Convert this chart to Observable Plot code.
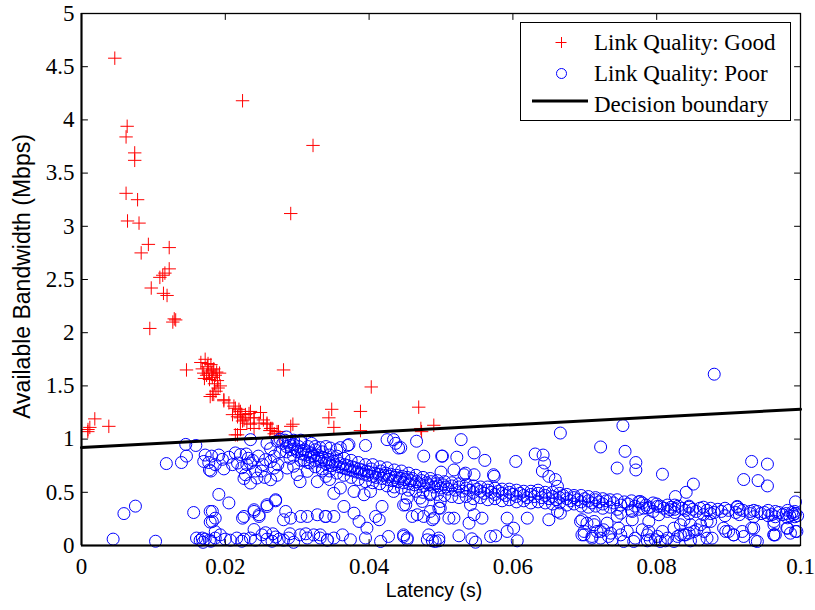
<!DOCTYPE html>
<html>
<head>
<meta charset="utf-8">
<script src="https://cdn.jsdelivr.net/npm/d3@7"></script>
<script src="https://cdn.jsdelivr.net/npm/@observablehq/plot@0.6"></script>
<style>
  html, body { margin: 0; padding: 0; background: #fff; }
  #wrap { position: relative; width: 815px; height: 610px; }
  #legend { position: absolute; left: 520px; top: 22px; }
</style>
</head>
<body>
<div id="wrap"></div>
<script>
// ---- Data ----
const xTicks = [0, 0.02, 0.04, 0.06, 0.08, 0.1];
const xTickLabels = ["0", "0.02", "0.04", "0.06", "0.08", "0.1"];
const yTicks = [0, 0.5, 1, 1.5, 2, 2.5, 3, 3.5, 4, 4.5, 5];
const yTickLabels = ["0", "0.5", "1", "1.5", "2", "2.5", "3", "3.5", "4", "4.5", "5"];
const xLabel = "Latency (s)";
const yLabel = "Available Bandwidth (Mbps)";
const legendLabels = ["Link Quality: Good", "Link Quality: Poor", "Decision boundary"];

const boundaryLatency = [0, 0.1];
const boundaryBandwidth = [0.92, 1.28];

// Link Quality: Good  [latency, bandwidth]
const goodPoints = [
  [0.00463,4.58],[0.0224,4.18],[0.0322,3.76],[0.0291,3.12],[0.00635,3.94],[0.0062,3.84],[0.0074,3.69],[0.0074,3.62],
  [0.0062,3.31],[0.0078,3.25],[0.0064,3.05],[0.0080,3.03],[0.0093,2.83],[0.0083,2.75],[0.0122,2.80],[0.0122,2.60],
  [0.0109,2.52],[0.0113,2.54],[0.0116,2.56],[0.0097,2.42],[0.0114,2.37],[0.0119,2.35],[0.0095,2.04],[0.0129,2.13],
  [0.0127,2.10],[0.0131,2.12],
  [0.00116,1.11],[0.00088,1.07],[0.00185,1.19],[0.0038,1.12],[0.0009,1.09],
  [0.0146,1.65],[0.0166,1.72],[0.0168,1.66],[0.0170,1.62],[0.0172,1.75],[0.0174,1.60],[0.0175,1.68],[0.0177,1.64],
  [0.0178,1.56],[0.0180,1.70],[0.0181,1.62],[0.0182,1.58],[0.0183,1.65],[0.0185,1.52],[0.0186,1.60],[0.0188,1.63],
  [0.0189,1.55],[0.0190,1.48],[0.0192,1.62],[0.0193,1.50],[0.0171,1.57],[0.0176,1.71],[0.0184,1.66],[0.0187,1.45],
  [0.0179,1.40],[0.0184,1.42],[0.0198,1.37],[0.0205,1.34],
  [0.0214,1.29],[0.0221,1.26],[0.0228,1.23],[0.0235,1.26],[0.0240,1.20],[0.0249,1.25],[0.0253,1.18],[0.0258,1.14],
  [0.0265,1.10],[0.0272,1.07],[0.0217,1.21],[0.0224,1.17],[0.0230,1.15],[0.0240,1.10],[0.0221,1.09],[0.0217,1.04],
  [0.0182,1.42],[0.0198,1.36],[0.0212,1.31],[0.0219,1.28],[0.0223,1.23],[0.0233,1.24],[0.0226,1.18],[0.0240,1.20],
  [0.0247,1.15],[0.0235,1.14],[0.0258,1.15],[0.0263,1.10],[0.0274,1.07],[0.0291,1.12],[0.0214,1.04],[0.0221,1.20],
  [0.0210,1.23],[0.0268,1.05],[0.0276,1.02],[0.0262,1.08],
  [0.0281,1.65],[0.0294,1.14],[0.0403,1.49],[0.0348,1.28],[0.0344,1.20],[0.0351,1.11],[0.0388,1.26],[0.0388,1.08],
  [0.0469,1.30],[0.0472,1.10],[0.0490,1.13],[0.0473,1.07]
];

// Link Quality: Poor  [latency, bandwidth]
const poorPoints = [
  // low latency, scattered
  [0.0044,0.06],[0.0059,0.30],[0.0075,0.37],[0.0103,0.04],[0.0118,0.77],[0.0139,0.78],[0.0146,0.84],[0.0145,0.95],
  [0.0159,0.94],[0.0172,0.85],[0.0177,0.78],[0.0178,0.71],[0.0156,0.31],[0.0179,0.32],[0.0179,0.22],[0.0160,0.07],
  [0.0165,0.05],[0.0172,0.06],[0.0178,0.05],[0.0169,0.03],
  // 0.018 - 0.028 upper cloud
  [0.0181,0.84],[0.0191,0.85],[0.0196,0.81],[0.0180,0.70],[0.0170,0.79],[0.0214,0.87],[0.0217,0.775],[0.0223,0.73],
  [0.0232,0.82],[0.0235,0.775],[0.0228,0.665],[0.0235,0.587],[0.0244,0.634],[0.0221,0.855],[0.0256,0.807],[0.0263,0.79],
  [0.0268,0.728],[0.0263,0.618],[0.0272,0.66],[0.0276,0.88],[0.0263,0.91],[0.0258,0.96],[0.0235,0.995],[0.0230,0.76],
  [0.0238,0.80],[0.0205,0.83],[0.0186,0.76],[0.0226,0.63],[0.0250,0.70],[0.0246,0.84],[0.0252,0.76],[0.0268,0.84],
  [0.0273,0.76],[0.0229,0.86],[0.0210,0.76],[0.0198,0.72],[0.0255,0.64],[0.0242,0.70],
  // 0.018 - 0.028 middle
  [0.0191,0.48],[0.0205,0.40],[0.0270,0.43],[0.0258,0.367],[0.0240,0.336],[0.0226,0.273],[0.0182,0.32],[0.0186,0.257],
  [0.0182,0.226],[0.0247,0.273],[0.0284,0.32],[0.0291,0.257],[0.0281,0.242],[0.0224,0.257],[0.0240,0.32],[0.0247,0.289],
  [0.0258,0.383],[0.0270,0.42],
  // 0.017 - 0.035 bottom row
  [0.0168,0.07],[0.0180,0.04],[0.0186,0.07],[0.0193,0.10],[0.0207,0.05],[0.0216,0.07],[0.0223,0.04],[0.0235,0.07],
  [0.0242,0.05],[0.0251,0.10],[0.0258,0.06],[0.0265,0.04],[0.0270,0.08],[0.0281,0.05],[0.0288,0.07],[0.0295,0.03],
  [0.0304,0.10],[0.0314,0.07],[0.0323,0.10],[0.0332,0.07],[0.0342,0.05],[0.0186,0.13],[0.0240,0.15],[0.0256,0.12],
  [0.0266,0.11],[0.0290,0.11],[0.0312,0.11],[0.0226,0.06],[0.0200,0.06],[0.0275,0.06],
  // main band
  [0.0272,0.98],[0.0276,1.00],[0.0280,0.96],[0.0283,0.99],[0.0285,0.93],[0.0288,0.97],[0.0290,0.94],[0.0292,0.90],
  [0.0295,0.95],[0.0297,0.91],[0.0300,0.88],[0.0302,0.93],[0.0305,0.89],[0.0307,0.86],[0.0310,0.90],[0.0312,0.85],
  [0.0315,0.88],[0.0318,0.83],[0.0320,0.87],[0.0323,0.84],[0.0325,0.80],[0.0328,0.85],[0.0330,0.82],[0.0333,0.79],
  [0.0335,0.83],[0.0338,0.80],[0.0340,0.77],[0.0343,0.81],[0.0345,0.78],[0.0348,0.75],[0.0350,0.79],[0.0353,0.76],
  [0.0356,0.80],[0.0358,0.74],[0.0360,0.77],[0.0363,0.73],[0.0366,0.76],[0.0368,0.72],[0.0370,0.75],[0.0373,0.71],
  [0.0376,0.74],[0.0378,0.70],[0.0380,0.73],[0.0383,0.69],[0.0386,0.72],[0.0388,0.68],[0.0390,0.71],[0.0393,0.67],
  [0.0396,0.70],[0.0398,0.66],[0.0400,0.69],[0.0403,0.72],[0.0405,0.65],[0.0408,0.68],[0.0410,0.64],[0.0413,0.67],
  [0.0416,0.70],[0.0418,0.63],[0.0420,0.66],[0.0423,0.68],[0.0426,0.62],[0.0428,0.65],[0.0430,0.67],[0.0433,0.61],
  [0.0436,0.64],[0.0438,0.66],[0.0440,0.60],[0.0443,0.63],[0.0446,0.65],[0.0448,0.59],[0.0450,0.62],[0.0453,0.64],
  [0.0456,0.58],[0.0458,0.61],[0.0460,0.63],[0.0463,0.57],[0.0466,0.60],[0.0470,0.58],[0.0473,0.61],[0.0476,0.56],
  [0.0480,0.59],[0.0483,0.57],[0.0486,0.60],[0.0490,0.55],[0.0493,0.58],[0.0496,0.56],[0.0500,0.54],[0.0503,0.57],
  [0.0507,0.55],[0.0510,0.53],[0.0515,0.56],[0.0520,0.52],[0.0525,0.55],[0.0530,0.51],[0.0535,0.54],[0.0540,0.52],
  [0.0545,0.50],[0.0550,0.53],[0.0555,0.51],[0.0560,0.49],[0.0565,0.52],[0.0570,0.50],[0.0575,0.48],[0.0580,0.51],
  [0.0585,0.49],[0.0590,0.47],[0.0595,0.50],[0.0600,0.48],[0.0605,0.46],[0.0610,0.49],[0.0615,0.47],[0.0620,0.45],
  [0.0625,0.48],[0.0630,0.46],[0.0635,0.49],[0.0640,0.45],[0.0645,0.47],[0.0650,0.44],[0.0655,0.46],[0.0660,0.43],
  [0.0665,0.45],[0.0670,0.47],[0.0675,0.44],[0.0680,0.42],[0.0685,0.45],[0.0690,0.43],[0.0695,0.41],[0.0700,0.44],
  [0.0705,0.42],[0.0710,0.40],[0.0715,0.43],[0.0720,0.41],[0.0725,0.39],[0.0730,0.42],[0.0740,0.40],[0.0750,0.38],
  [0.0755,0.41],[0.0760,0.39],[0.0770,0.37],[0.0780,0.40],[0.0785,0.38],[0.0790,0.36],[0.0800,0.39],[0.0805,0.37],
  [0.0810,0.35],[0.0815,0.38],[0.0820,0.36],[0.0825,0.34],[0.0830,0.37],[0.0835,0.35],[0.0840,0.33],[0.0845,0.36],
  [0.0850,0.34],[0.0855,0.32],[0.0860,0.35],[0.0870,0.33],[0.0880,0.31],[0.0885,0.34],[0.0890,0.32],[0.0900,0.33],
  [0.0910,0.31],[0.0920,0.33],[0.0930,0.30],[0.0940,0.32],[0.0945,0.30],[0.0950,0.31],[0.0960,0.29],[0.0970,0.31],
  [0.0975,0.29],[0.0980,0.30],[0.0985,0.28],[0.0988,0.31],[0.0990,0.29],[0.0993,0.30],[0.0996,0.28],
  // band, outer edges
  [0.0285,0.88],[0.0285,1.02],[0.0295,0.84],[0.0295,0.99],[0.0305,0.80],[0.0305,0.97],[0.0315,0.78],[0.0315,0.93],
  [0.0325,0.74],[0.0325,0.90],[0.0335,0.72],[0.0335,0.88],[0.0345,0.70],[0.0345,0.85],[0.0355,0.68],[0.0355,0.84],
  [0.0365,0.66],[0.0365,0.82],[0.0375,0.64],[0.0375,0.80],[0.0385,0.62],[0.0385,0.78],[0.0395,0.60],[0.0395,0.76],
  [0.0405,0.59],[0.0405,0.76],[0.0415,0.58],[0.0415,0.74],[0.0425,0.56],[0.0425,0.73],[0.0435,0.55],[0.0435,0.71],
  [0.0445,0.54],[0.0445,0.70],[0.0455,0.52],[0.0455,0.68],[0.0465,0.51],[0.0465,0.66],[0.0475,0.50],[0.0475,0.64],
  [0.0485,0.49],[0.0485,0.63],[0.0495,0.48],[0.0495,0.61],[0.0505,0.47],[0.0505,0.60],[0.0515,0.46],[0.0515,0.59],
  [0.0525,0.45],[0.0525,0.58],[0.0535,0.46],[0.0535,0.57],[0.0545,0.44],[0.0545,0.56],[0.0555,0.45],[0.0555,0.55],
  [0.0565,0.43],[0.0565,0.55],[0.0575,0.44],[0.0575,0.54],[0.0585,0.42],[0.0585,0.53],[0.0595,0.43],[0.0595,0.53],
  [0.0605,0.41],[0.0605,0.52],[0.0615,0.42],[0.0615,0.51],[0.0625,0.40],[0.0625,0.51],[0.0635,0.41],[0.0635,0.52],
  [0.0645,0.40],[0.0645,0.50],[0.0655,0.39],[0.0655,0.50],[0.0665,0.40],[0.0665,0.49],[0.0675,0.38],[0.0675,0.48],
  [0.0685,0.39],[0.0685,0.47],[0.0695,0.37],[0.0695,0.47],[0.0705,0.36],[0.0705,0.46],[0.0715,0.37],[0.0715,0.45],
  [0.0725,0.35],[0.0725,0.44],[0.0735,0.36],[0.0735,0.43],[0.0745,0.34],[0.0745,0.43],[0.0765,0.33],[0.0765,0.42],
  [0.0775,0.34],[0.0775,0.41],[0.0795,0.32],[0.0795,0.40],[0.0825,0.31],[0.0825,0.38],[0.0845,0.30],[0.0845,0.37],
  [0.0865,0.29],[0.0865,0.36],[0.0875,0.30],[0.0875,0.35],[0.0895,0.28],[0.0895,0.35],[0.0915,0.29],[0.0915,0.34],
  [0.0935,0.27],[0.0935,0.33],[0.0955,0.28],[0.0955,0.33],[0.0965,0.27],[0.0965,0.32],[0.0982,0.26],[0.0982,0.33],
  [0.0992,0.27],[0.0992,0.32],
  // 0.028 - 0.035 around band
  [0.0300,0.666],[0.0304,0.60],[0.0314,0.697],[0.0328,0.60],[0.0318,0.775],[0.0295,0.745],[0.0286,0.728],[0.0340,0.65],
  [0.0345,0.62],[0.0290,0.82],[0.0310,0.80],[0.0335,0.70],[0.0305,0.273],[0.0314,0.273],[0.0328,0.289],[0.0340,0.273],
  // above band 0.03 - 0.05
  [0.0305,0.99],[0.0320,0.96],[0.0325,0.93],[0.0332,0.92],[0.0340,0.93],[0.0346,0.916],[0.0355,0.90],[0.0360,0.92],
  [0.0370,0.94],[0.0372,0.948],[0.0395,0.94],[0.0425,0.995],[0.0434,0.995],[0.0437,0.96],[0.0441,0.916],[0.0444,0.92],
  [0.0466,0.98],[0.0476,0.84],[0.0501,0.84],
  // below band 0.033 - 0.051
  [0.0365,0.367],[0.0379,0.304],[0.0351,0.273],[0.0339,0.273],[0.0409,0.273],[0.0418,0.367],[0.0414,0.242],[0.0386,0.226],
  [0.0397,0.163],[0.0448,0.38],[0.0460,0.273],[0.0476,0.273],[0.0488,0.242],[0.0497,0.351],[0.0499,0.414],[0.0511,0.257],
  [0.0393,0.477],[0.0379,0.508],[0.0360,0.54],[0.0351,0.49],[0.0402,0.508],[0.0434,0.508],[0.0453,0.446],[0.0471,0.446],
  [0.0485,0.477],
  [0.0342,0.054],[0.0351,0.07],[0.0363,0.10],[0.0395,0.07],[0.0416,0.038],[0.0427,0.085],[0.0448,0.10],[0.0453,0.07],
  [0.0481,0.054],[0.0492,0.038],[0.0497,0.07],[0.0332,0.10],[0.0374,0.054],
  // above band 0.05 - 0.067
  [0.0666,1.057],[0.0528,0.995],[0.0546,0.87],[0.0561,0.80],[0.0522,0.83],[0.0502,0.84],[0.0604,0.79],[0.0631,0.86],
  [0.0642,0.85],[0.0644,0.775],[0.0641,0.70],[0.0650,0.65],[0.0659,0.62],[0.0662,0.556],[0.0574,0.65],[0.0534,0.68],
  [0.0546,0.665],[0.0518,0.71],[0.0500,0.69],[0.0573,0.665],[0.0532,0.665],
  // above band > 0.067
  [0.0722,0.926],[0.0753,1.127],[0.0756,0.885],[0.0745,0.728],[0.0771,0.78],[0.0771,0.71],[0.0808,0.67],[0.0851,0.577],
  [0.0841,0.50],[0.0826,0.46],[0.0880,1.61],[0.0932,0.79],[0.0954,0.765],[0.0921,0.62],[0.0941,0.61],[0.0954,0.56],
  [0.0912,0.36],[0.0993,0.41],
  // below band 0.045 - 0.1
  [0.0451,0.383],[0.0467,0.289],[0.0485,0.32],[0.0499,0.351],[0.0474,0.414],[0.0490,0.257],[0.0518,0.257],[0.0541,0.383],
  [0.0546,0.289],[0.0539,0.21],[0.0557,0.257],[0.0592,0.257],[0.0601,0.163],[0.0592,0.132],[0.0620,0.257],[0.0650,0.242],
  [0.0666,0.304],[0.0662,0.32],[0.0694,0.226],[0.0699,0.132],[0.0713,0.226],[0.0722,0.132],[0.0731,0.21],[0.0745,0.273],
  [0.0759,0.132],[0.0777,0.414],[0.0787,0.351],[0.0789,0.226],[0.0789,0.132],[0.0803,0.289],[0.0815,0.32],[0.0824,0.163],
  [0.0833,0.195],[0.0838,0.10],[0.0852,0.132],[0.0861,0.195],[0.0870,0.226],[0.0896,0.132],[0.0907,0.10],[0.0912,0.367],
  [0.0930,0.32],[0.0935,0.163],[0.0963,0.226],[0.0963,0.10],[0.0981,0.163],[0.0995,0.132],
  // bottom row 0.045 - 0.1
  [0.0448,0.085],[0.0453,0.054],[0.0483,0.10],[0.0488,0.044],[0.0497,0.044],[0.0525,0.091],[0.0543,0.063],[0.0548,0.031],
  [0.0569,0.085],[0.0576,0.091],[0.0606,0.044],[0.0696,0.10],[0.0710,0.085],[0.0717,0.132],[0.0733,0.085],[0.0750,0.10],
  [0.0768,0.038],[0.0787,0.044],[0.0798,0.054],[0.0812,0.044],[0.0829,0.085],[0.0847,0.044],[0.0870,0.069],[0.0937,0.044],
  [0.0963,0.10],
  // 0.067 - 0.085 below band
  [0.0696,0.242],[0.0703,0.21],[0.0713,0.195],[0.0726,0.148],[0.0736,0.116],[0.0747,0.163],[0.0766,0.242],[0.0780,0.148],
  [0.0787,0.10],[0.0801,0.085],[0.0808,0.132],[0.0815,0.069],[0.0833,0.10],[0.0845,0.116],[0.0699,0.10],[0.0710,0.069],
  [0.0722,0.069],[0.0738,0.054],[0.0754,0.038],[0.0770,0.069],[0.0791,0.054],[0.0805,0.038],[0.0824,0.038],
  [0.0750,0.304],[0.0766,0.32],[0.0782,0.351],[0.0801,0.367],[0.0819,0.336],
  // 0.084 - 0.1 below band
  [0.0838,0.24],[0.0847,0.195],[0.0856,0.148],[0.0866,0.132],[0.0875,0.226],[0.0877,0.069],[0.0893,0.163],[0.0900,0.132],
  [0.0907,0.10],[0.0919,0.132],[0.0921,0.085],[0.0932,0.163],[0.0940,0.038],[0.0963,0.195],[0.0965,0.10],[0.0982,0.163],
  [0.0986,0.116],[0.0993,0.132],[0.0840,0.10],[0.0859,0.054]
];

// ---- Chart ----
const tickShape = { draw(context, l) { context.moveTo(0, 0); context.lineTo(0, -l); } };
const serif = "'Liberation Serif', 'Times New Roman', serif";
const sans = "'Liberation Sans', Arial, sans-serif";

const chart = Plot.plot({
  width: 815,
  height: 610,
  marginLeft: 81,
  marginRight: 15,
  marginTop: 13,
  marginBottom: 65,
  style: { fontFamily: serif, background: "#fff", overflow: "visible" },
  x: { domain: [xTicks[0], xTicks[xTicks.length - 1]] },
  y: { domain: [yTicks[0], yTicks[yTicks.length - 1]] },
  marks: [
    Plot.dot(goodPoints, { x: d => d[0], y: d => d[1], symbol: "plus", r: 4.4, stroke: "#ff0000", strokeWidth: 1 }),
    Plot.dot(poorPoints, { x: d => d[0], y: d => d[1], symbol: "circle", r: 6, stroke: "#0000ff", fill: "none", strokeWidth: 1 }),
    Plot.line(boundaryLatency.map((x, i) => [x, boundaryBandwidth[i]]), { x: d => d[0], y: d => d[1], stroke: "#000", strokeWidth: 3 }),
    Plot.frame({ stroke: "#000", strokeWidth: 1.3 }),
    Plot.ruleY([yTicks[0]], { stroke: "#000", strokeWidth: 2 }),
    Plot.ruleX([xTicks[0]], { stroke: "#000", strokeWidth: 2 }),
    // inward ticks on all four sides
    Plot.vector(xTicks, { x: d => d, frameAnchor: "bottom", length: 6, rotate: 0, anchor: "start", shape: tickShape, stroke: "#000", strokeWidth: 1 }),
    Plot.vector(xTicks, { x: d => d, frameAnchor: "top", length: 6, rotate: 180, anchor: "start", shape: tickShape, stroke: "#000", strokeWidth: 1 }),
    Plot.vector(yTicks, { y: d => d, frameAnchor: "left", length: 6, rotate: 90, anchor: "start", shape: tickShape, stroke: "#000", strokeWidth: 1 }),
    Plot.vector(yTicks, { y: d => d, frameAnchor: "right", length: 6, rotate: -90, anchor: "start", shape: tickShape, stroke: "#000", strokeWidth: 1 }),
    Plot.axisX(xTicks, { anchor: "bottom", tickSize: 0, tickPadding: 12, tickFormat: (d, i) => xTickLabels[i], fontSize: 23, fontFamily: serif, fill: "#000", label: null }),
    Plot.axisY(yTicks, { anchor: "left", tickSize: 0, tickPadding: 7, tickFormat: (d, i) => yTickLabels[i], fontSize: 23, fontFamily: serif, fill: "#000", label: null }),
    Plot.text([xLabel], { text: d => d, frameAnchor: "bottom", textAnchor: "middle", dy: 51, dx: -7, fontSize: 19.5, fontFamily: sans, fill: "#000" }),
    Plot.text([yLabel], { text: d => d, frameAnchor: "left", textAnchor: "middle", rotate: -90, dx: -59, dy: -3, fontSize: 23, fontFamily: sans, fill: "#000" })
  ]
});

const wrap = document.getElementById("wrap");
wrap.appendChild(chart);

// ---- Legend (overlay in the top-right corner of the axes) ----
const ns = "http://www.w3.org/2000/svg";
const lg = document.createElementNS(ns, "svg");
lg.setAttribute("id", "legend");
lg.setAttribute("width", 272);
lg.setAttribute("height", 100);
lg.innerHTML = `
  <rect x="0.5" y="0.5" width="270" height="98" fill="#fff" stroke="#000" stroke-width="1"/>
  <path d="M35.5,20.5 h11 M41.5,15 v11" stroke="#ff0000" stroke-width="1" fill="none"/>
  <circle cx="41.5" cy="51.5" r="5" stroke="#0000ff" stroke-width="1" fill="none"/>
  <line x1="12" y1="79" x2="68" y2="79" stroke="#000" stroke-width="3"/>
  <g font-family="${serif}" font-size="23" fill="#000">
    <text x="74" y="28">${legendLabels[0]}</text>
    <text x="74" y="59">${legendLabels[1]}</text>
    <text x="74" y="90">${legendLabels[2]}</text>
  </g>`;
wrap.appendChild(lg);
</script>
</body>
</html>
